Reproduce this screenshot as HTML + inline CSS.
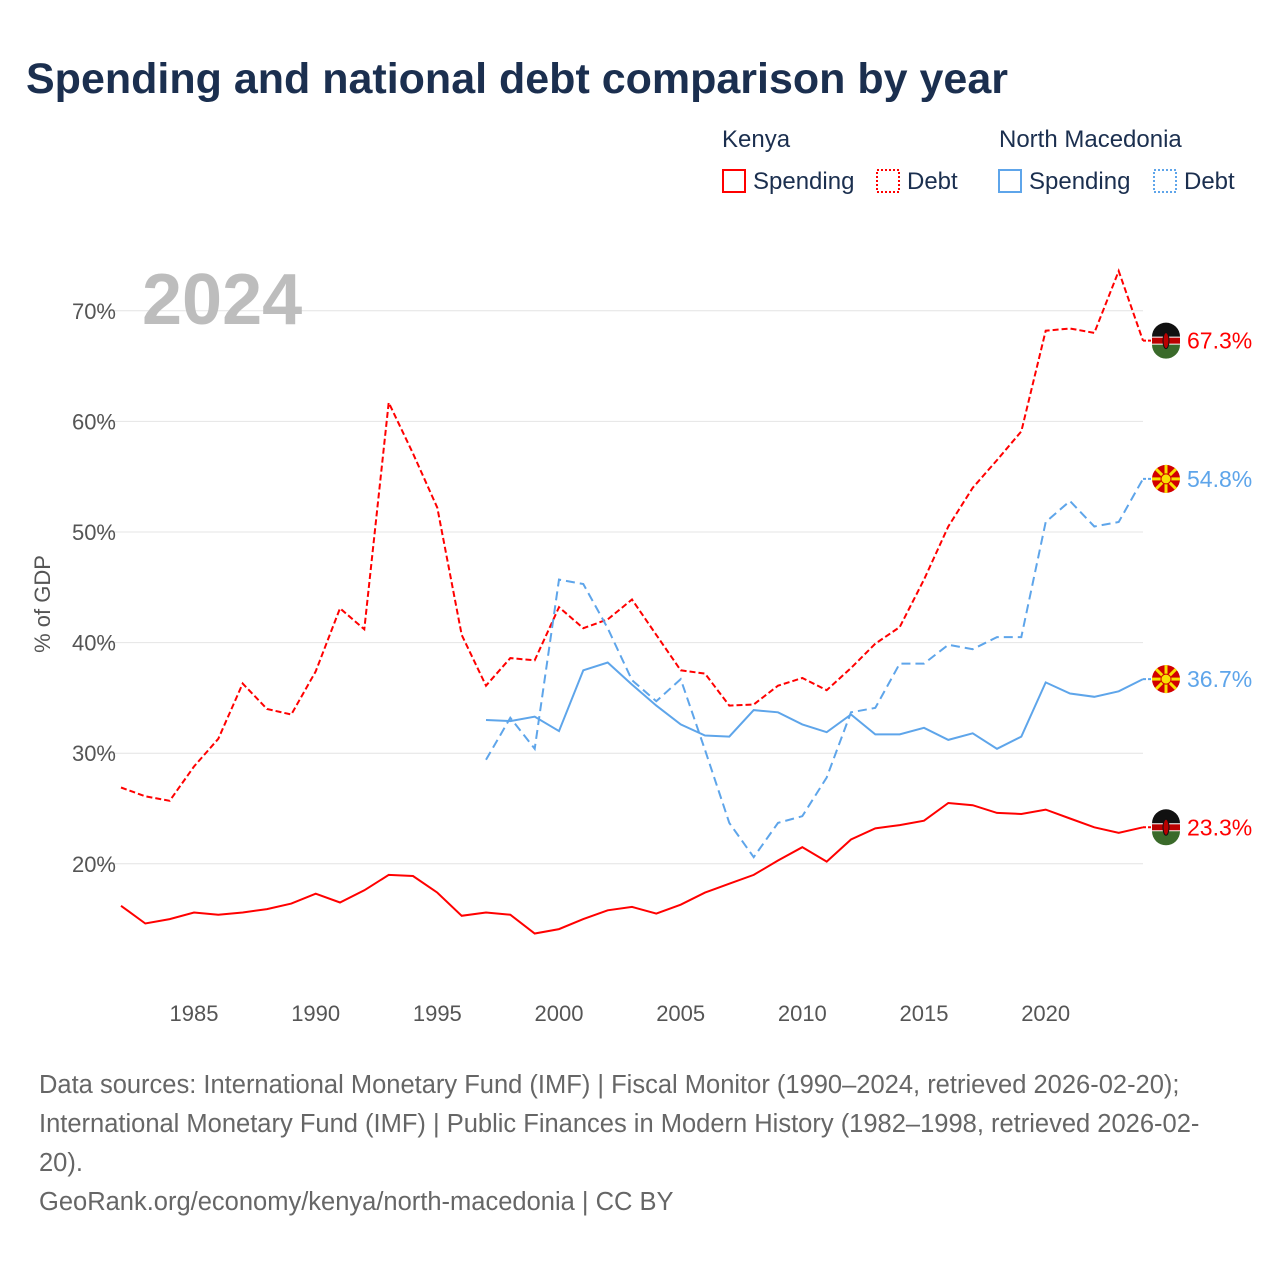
<!DOCTYPE html>
<html><head><meta charset="utf-8">
<style>
body{margin:0;background:#fff;font-family:"Liberation Sans",sans-serif;}
svg text{font-family:"Liberation Sans",sans-serif;}
</style></head>
<body>
<svg id="chart" width="1280" height="1280" xmlns="http://www.w3.org/2000/svg">
<text x="26" y="93" font-size="43" font-weight="bold" fill="#1b2f4f">Spending and national debt comparison by year</text>
<g font-size="24" fill="#1b2f4f">
<text x="722" y="147">Kenya</text>
<text x="999" y="147">North Macedonia</text>
<rect x="723" y="170" width="22" height="22" fill="none" stroke="#f00" stroke-width="2"/>
<text x="753" y="189">Spending</text>
<rect x="877" y="170" width="22" height="22" fill="none" stroke="#f00" stroke-width="2" stroke-dasharray="2,2"/>
<text x="907" y="189">Debt</text>
<rect x="999" y="170" width="22" height="22" fill="none" stroke="#5ea5ea" stroke-width="2"/>
<text x="1029" y="189">Spending</text>
<rect x="1154" y="170" width="22" height="22" fill="none" stroke="#5ea5ea" stroke-width="2" stroke-dasharray="2,2"/>
<text x="1184" y="189">Debt</text>
</g>
<g id="grid"></g>
<text x="142" y="324" font-size="72" font-weight="bold" fill="#bdbdbd">2024</text>
<text transform="translate(50,604) rotate(-90)" text-anchor="middle" font-size="22" fill="#555">% of GDP</text>
<g id="series"></g>
<g font-size="25.5" fill="#666">
<text x="39" y="1093">Data sources: International Monetary Fund (IMF) | Fiscal Monitor (1990–2024, retrieved 2026-02-20);</text>
<text x="39" y="1132">International Monetary Fund (IMF) | Public Finances in Modern History (1982–1998, retrieved 2026-02-</text>
<text x="39" y="1171">20).</text>
<text x="39" y="1210">GeoRank.org/economy/kenya/north-macedonia | CC BY</text>
</g>
</svg>
<script>
const keYears=[];for(let y=1982;y<=2024;y++)keYears.push(y);
const nmYears=[];for(let y=1997;y<=2024;y++)nmYears.push(y);
const kenyaSpending=[16.2,14.6,15.0,15.6,15.4,15.6,15.9,16.4,17.3,16.5,17.6,19.0,18.9,17.4,15.3,15.6,15.4,13.7,14.1,15.0,15.8,16.1,15.5,16.3,17.4,18.2,19.0,20.3,21.5,20.2,22.2,23.2,23.5,23.9,25.5,25.3,24.6,24.5,24.9,24.1,23.3,22.8,23.3];
const kenyaDebt=[26.9,26.1,25.7,28.8,31.3,36.3,34.0,33.5,37.4,43.1,41.2,61.7,57.1,52.2,40.7,36.1,38.6,38.4,43.2,41.3,42.1,43.9,40.7,37.5,37.2,34.3,34.4,36.1,36.8,35.7,37.7,39.9,41.4,45.7,50.5,54.0,56.5,59.1,68.2,68.4,68.0,73.6,67.3];
const nmSpending=[33.0,32.9,33.3,32.0,37.5,38.2,36.2,34.3,32.6,31.6,31.5,33.9,33.7,32.6,31.9,33.5,31.7,31.7,32.3,31.2,31.8,30.4,31.5,36.4,35.4,35.1,35.6,36.7];
const nmDebt=[29.4,33.2,30.4,45.7,45.3,41.3,36.6,34.7,36.7,30.3,23.7,20.6,23.7,24.3,27.8,33.7,34.1,38.1,38.1,39.8,39.4,40.5,40.5,50.9,52.8,50.5,50.9,54.8];
const yTicks=[20,30,40,50,60,70];
const xTicks=[1985,1990,1995,2000,2005,2010,2015,2020];
const NS="http://www.w3.org/2000/svg";
const xs=y=>121+(y-1982)*(1143-121)/42;
const ys=v=>1085-v*11.06;
function mk(tag,attrs,parent){const e=document.createElementNS(NS,tag);for(const k in attrs)e.setAttribute(k,attrs[k]);parent.appendChild(e);return e;}
const grid=document.getElementById('grid');
yTicks.forEach(t=>{
 const l=mk('line',{x1:100,x2:1143,y1:ys(t),y2:ys(t),stroke:'#e4e4e4','stroke-width':1},grid);
 
 
 const tx=mk('text',{x:116,y:ys(t)+8,'text-anchor':'end','font-size':22,fill:'#555'},grid);
 tx.textContent=t+'%';
 
 
});
xTicks.forEach(t=>{
 const tx=mk('text',{x:xs(t),y:1021,'text-anchor':'middle','font-size':22,fill:'#555'},grid);
 tx.textContent=t;
 
 
});
const sg=document.getElementById('series');
function line(years,vals,color,dash,name){
 const d=vals.map((v,i)=>(i?'L':'M')+xs(years[i]).toFixed(1)+','+ys(v).toFixed(1)).join('');
 const p=mk('path',{d:d,fill:'none',stroke:color,'stroke-width':2,'stroke-dasharray':dash},sg);
 
 
}
line(keYears,kenyaDebt,'#f00','6,3','kenya-debt-line');
line(keYears,kenyaSpending,'#f00','none','kenya-spending-line');
line(nmYears,nmDebt,'#5ea5ea','9,5','nm-debt-line');
line(nmYears,nmSpending,'#5ea5ea','none','nm-spending-line');
function endLabel(v,color,flag,name){
 const y=ys(v);
 mk('line',{x1:1143,x2:1152,y1:y,y2:y,stroke:color,'stroke-width':2,'stroke-dasharray':'3,2'},sg);
 const g=mk('g',{},sg);
 
 
 if(flag==='ke'){
  mk('circle',{cx:1166,cy:y,r:14,fill:'#fff'},g);
  mk('path',{d:`M1152,${y-4} A14,14 0 0 1 1180,${y-4} Z`,fill:'#111'},g);
  mk('rect',{x:1152,y:y-3,width:28,height:6,fill:'#b00'},g);
  mk('path',{d:`M1152,${y+4} A14,14 0 0 0 1180,${y+4} Z`,fill:'#3a6a2a'},g);
  mk('ellipse',{cx:1166,cy:y,rx:3,ry:8,fill:'#b00',stroke:'#111','stroke-width':1},g);
 } else {
  mk('circle',{cx:1166,cy:y,r:14,fill:'#d20000'},g);
  for(let a=0;a<8;a++){const an=a*Math.PI/4;mk('line',{x1:1166,y1:y,x2:1166+14*Math.cos(an),y2:y+14*Math.sin(an),stroke:'#f8e000','stroke-width':3},g);}
  mk('circle',{cx:1166,cy:y,r:5,fill:'#f8e000',stroke:'#d20000','stroke-width':1},g);
 }
 const t=mk('text',{x:1187,y:y+8,'font-size':23,fill:color},sg);
 t.textContent=v.toFixed(1)+'%';
 
 
}
endLabel(kenyaDebt[kenyaDebt.length-1],'#f00','ke','kenya-debt');
endLabel(nmDebt[nmDebt.length-1],'#5ea5ea','mk','nm-debt');
endLabel(nmSpending[nmSpending.length-1],'#5ea5ea','mk','nm-spending');
endLabel(kenyaSpending[kenyaSpending.length-1],'#f00','ke','kenya-spending');
</script>
</body></html>
